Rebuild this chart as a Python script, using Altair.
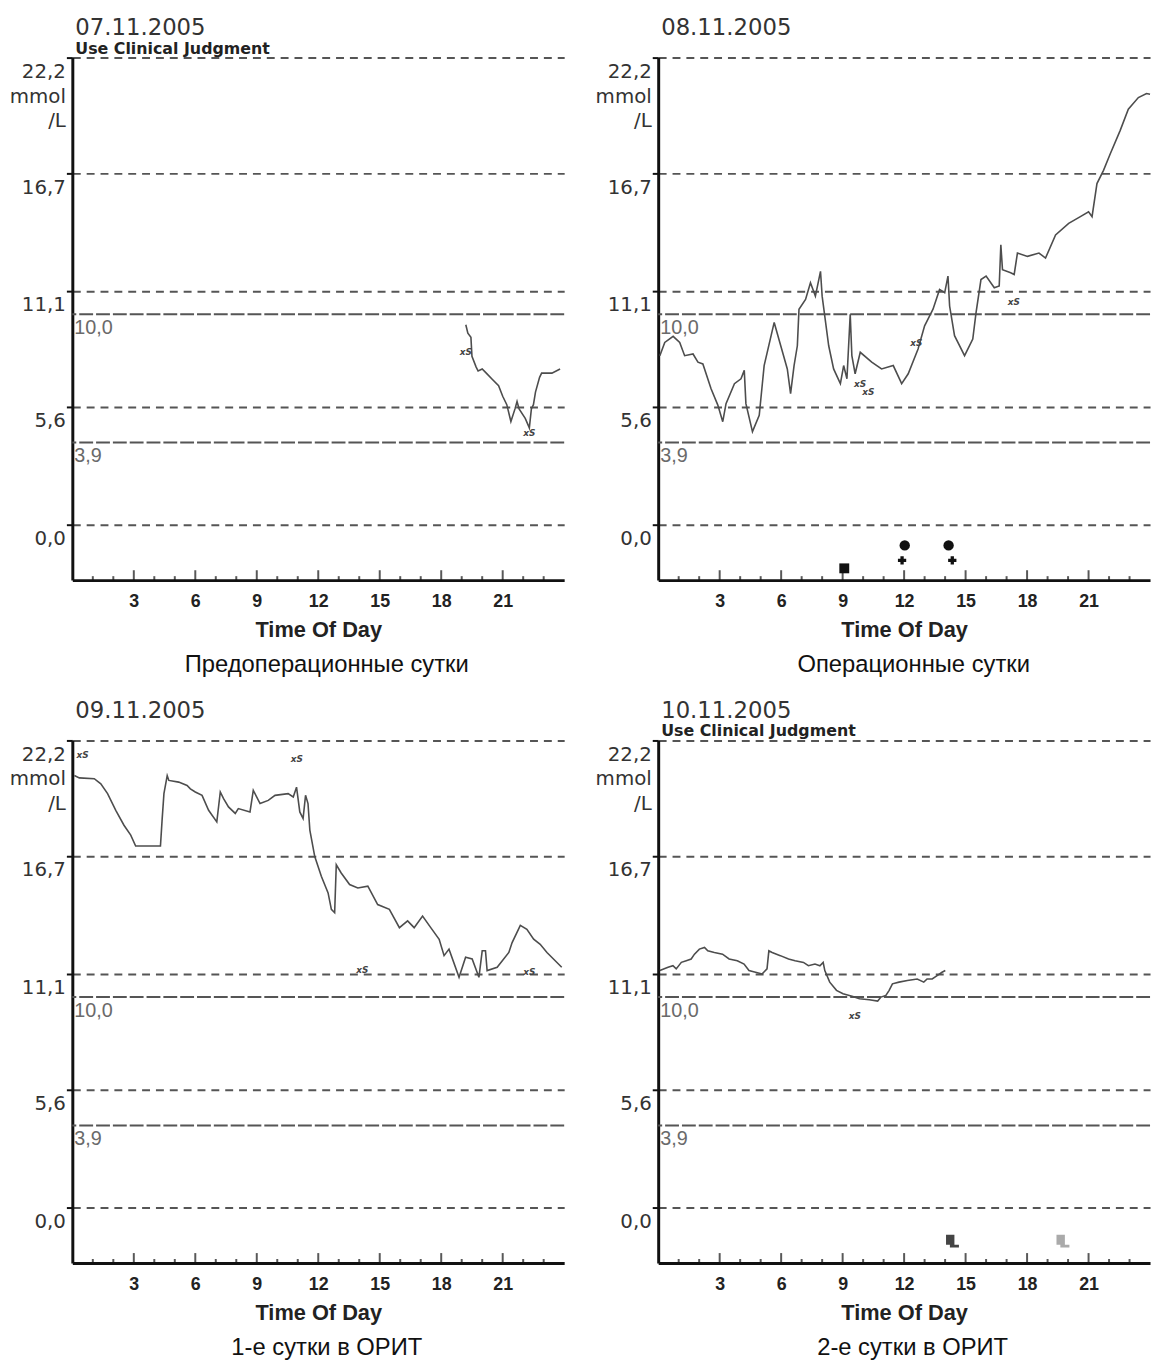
import altair as alt
import pandas as pd

# ---------------- chart constants ----------------
Y_MIN = -2.64
Y_MAX = 22.2
Y_TICKS = [0.0, 5.6, 11.1, 16.7, 22.2]
X_LABEL_HOURS = [3, 6, 9, 12, 15, 18, 21]
MAJOR_TICK_HOURS = [3, 6, 9, 12, 15, 18, 21]
MINOR_TICK_HOURS = [1, 2, 4, 5, 7, 8, 10, 11, 13, 14, 16, 17, 19, 20, 22, 23]
TARGET_LINES = [10.0, 3.9]
TARGET_LABELS = ["10,0", "3,9"]

DATES = ["07.11.2005", "08.11.2005", "09.11.2005", "10.11.2005"]
SUBTITLES = ["Use Clinical Judgment", " ", " ", "Use Clinical Judgment"]
CAPTIONS = ["Предоперационные сутки", "Операционные сутки",
            "1-е сутки в ОРИТ", "2-е сутки в ОРИТ"]

# ---------------- 07.11.2005 ----------------
D1_T = [19.2, 19.3, 19.45, 19.5, 19.7, 19.8, 20.0, 20.2, 20.5, 20.8, 21.0, 21.2,
        21.4, 21.6, 21.7, 21.8, 22.1, 22.3, 22.4, 22.5, 22.6, 22.8, 22.9, 23.4, 23.8]
D1_G = [9.5, 9.1, 8.9, 8.0, 7.5, 7.3, 7.4, 7.2, 6.9, 6.6, 6.1, 5.7,
        4.9, 5.5, 5.85, 5.5, 5.05, 4.6, 5.5, 5.7, 6.3, 7.0, 7.2, 7.2, 7.4]
D1_XS_T = [19.2, 22.3]
D1_XS_G = [8.2, 4.35]

# ---------------- 08.11.2005 ----------------
D2_T = [0.08, 0.32, 0.73, 1.05, 1.29, 1.70, 1.94, 2.18, 2.58, 2.91, 3.15, 3.31,
        3.72, 4.04, 4.2, 4.28, 4.6, 4.93, 5.17, 5.66, 5.98, 6.3, 6.46, 6.63,
        6.79, 6.87, 7.19, 7.43, 7.67, 7.92, 8.0, 8.32, 8.56, 8.89, 9.05, 9.21,
        9.37, 9.45, 9.61, 9.86, 10.42, 10.9, 11.47, 11.88, 12.2, 12.68, 13.0, 13.41,
        13.73, 13.98, 14.14, 14.22, 14.46, 14.95, 15.35, 15.51, 15.75, 16.0, 16.4, 16.64,
        16.72, 16.8, 17.2, 17.37, 17.53, 18.02, 18.58, 18.9, 19.39, 20.03, 20.6, 21.0,
        21.17, 21.41, 21.73, 22.06, 22.54, 22.94, 23.43, 23.83, 24.0]
D2_G = [8.03, 8.66, 8.95, 8.66, 8.03, 8.11, 7.72, 7.64, 6.46, 5.68, 4.89, 5.75,
        6.70, 6.93, 7.33, 5.75, 4.42, 5.2, 7.56, 9.61, 8.5, 7.4, 6.23, 7.56,
        8.5, 10.24, 10.7, 11.5, 10.86, 12.04, 10.86, 8.5, 7.4, 6.7, 7.56, 6.93,
        10.0, 8.03, 7.17, 8.19, 7.72, 7.4, 7.56, 6.7, 7.17, 8.35, 9.45, 10.24,
        11.18, 11.02, 11.81, 10.39, 8.98, 8.03, 8.82, 10.08, 11.65, 11.81, 11.26, 11.34,
        13.3, 12.12, 11.97, 11.89, 12.91, 12.75, 12.91, 12.67, 13.77, 14.32, 14.64, 14.87,
        14.64, 16.21, 16.84, 17.63, 18.73, 19.75, 20.3, 20.49, 20.46]
D2_XS_T = [9.85, 10.25, 12.6, 17.35]
D2_XS_G = [6.7, 6.3, 8.65, 10.6]
D2_SQUARE_T = [9.08]
D2_SQUARE_G = [-2.08]
D2_CIRCLE_T = [12.03, 14.17]
D2_CIRCLE_G = [-0.99, -0.99]
D2_PLUS_T = [11.9, 14.35]
D2_PLUS_G = [-1.7, -1.7]

# ---------------- 09.11.2005 ----------------
D3_T = [0.1, 0.34, 1.07, 1.39, 1.72, 2.12, 2.52, 2.85, 3.09, 4.3, 4.38, 4.47,
        4.63, 4.71, 5.19, 5.6, 5.76, 6.0, 6.33, 6.65, 7.05, 7.22, 7.38, 7.62,
        7.95, 8.1, 8.67, 8.83, 9.16, 9.56, 9.89, 10.53, 10.78, 10.94, 11.1, 11.26,
        11.38, 11.5, 11.59, 11.83, 12.15, 12.48, 12.64, 12.8, 12.88, 13.12, 13.53, 13.93,
        14.42, 14.9, 15.47, 15.96, 16.36, 16.68, 17.09, 17.49, 17.9, 18.14, 18.38, 18.87,
        19.19, 19.51, 19.84, 20.0, 20.16, 20.24, 20.73, 21.3, 21.46, 21.86, 22.18, 22.51,
        22.83, 23.16, 23.88]
D3_G = [20.53, 20.42, 20.38, 20.14, 19.67, 18.88, 18.17, 17.7, 17.18, 17.18, 18.41, 19.67,
        20.53, 20.3, 20.22, 20.06, 19.9, 19.75, 19.59, 18.88, 18.33, 19.75, 19.43, 19.04,
        18.73, 18.96, 18.8, 19.83, 19.2, 19.35, 19.59, 19.67, 19.51, 19.98, 18.8, 18.49,
        19.59, 19.2, 17.94, 16.68, 15.74, 14.95, 14.17, 14.01, 16.29, 15.9, 15.35, 15.19,
        15.27, 14.4, 14.17, 13.3, 13.62, 13.3, 13.85, 13.3, 12.75, 11.97, 12.28, 10.94,
        11.89, 11.81, 10.94, 12.2, 12.2, 11.26, 11.42, 12.12, 12.59, 13.41, 13.22, 12.75,
        12.51, 12.12, 11.42]
D3_XS_T = [0.5, 10.95, 14.15, 22.3]
D3_XS_G = [21.5, 21.3, 11.3, 11.2]

# ---------------- 10.11.2005 ----------------
D4_T = [0.08, 0.48, 0.72, 0.88, 1.13, 1.37, 1.61, 1.77, 2.01, 2.26, 2.42, 2.74,
        3.14, 3.46, 3.86, 4.19, 4.43, 4.75, 5.07, 5.31, 5.4, 5.56, 5.96, 6.36,
        6.68, 7.09, 7.33, 7.65, 7.89, 8.05, 8.13, 8.37, 8.7, 9.02, 9.5, 9.82,
        10.3, 10.71, 10.87, 11.11, 11.27, 11.43, 11.75, 12.16, 12.64, 12.96, 13.12, 13.37,
        13.61, 13.85, 14.01]
D4_G = [11.26, 11.42, 11.49, 11.34, 11.65, 11.73, 11.81, 12.04, 12.28, 12.36, 12.2, 12.12,
        12.04, 11.81, 11.73, 11.57, 11.26, 11.18, 11.1, 11.34, 12.2, 12.12, 11.97, 11.81,
        11.73, 11.65, 11.49, 11.57, 11.49, 11.65, 11.26, 10.71, 10.32, 10.16, 10.03, 9.92,
        9.87, 9.81, 10.0, 10.08, 10.32, 10.63, 10.71, 10.79, 10.86, 10.71, 10.86, 10.86,
        11.02, 11.18, 11.26]
D4_XS_T = [9.6]
D4_XS_G = [9.1]
D4_EVENT_T = [14.36, 19.75]
D4_EVENT_G = [-1.6, -1.6]
D4_EVENT_KIND = ["dark", "light"]

# ---------------- styling ----------------
FONT = "DejaVu Sans"
ARIAL = "Liberation Sans"
INK = "#222222"
LINE = "#4d4d4d"

x_scale = alt.Scale(domain=[0, 24], nice=False, zero=False)
y_scale = alt.Scale(domain=[Y_MIN, Y_MAX], nice=False, zero=False)

y_axis = alt.Axis(
    values=Y_TICKS, title=None, grid=True, gridDash=[8, 6], gridColor="#555555",
    gridWidth=2, domainColor="#111111", domainWidth=3, tickColor="#111111",
    tickWidth=2, tickSize=6, labelFont=FONT, labelFontSize=20, labelColor="#333333",
    labelBaseline="top", labelOffset=4, labelPadding=1, labelLineHeight=25,
    labelOverlap=False,
    labelExpr="datum.value > 22 ? ['22,2', 'mmol', '/L'] : replace(format(datum.value, '.1f'), '.', ',')",
)
x_axis = alt.Axis(
    values=X_LABEL_HOURS, title="Time Of Day", grid=False, ticks=False, tickSize=0,
    domainColor="#111111", domainWidth=3, labelFont=ARIAL, labelFontSize=18,
    labelFontWeight="bold", labelColor=INK, labelPadding=13, labelFlush=False,
    titleFont=ARIAL, titleFontSize=22, titleFontWeight="bold", titleColor=INK,
    titlePadding=9,
)


def xy(axes=False):
    if axes:
        return dict(x=alt.X("t:Q", scale=x_scale, axis=x_axis),
                    y=alt.Y("g:Q", scale=y_scale, axis=y_axis))
    return dict(x=alt.X("t:Q", scale=x_scale),
                y=alt.Y("g:Q", scale=y_scale))


def panel(t, g, xs_t, xs_g, extra, date, subtitle, caption):
    major = alt.Chart(pd.DataFrame({"t": MAJOR_TICK_HOURS,
                                    "g": [Y_MIN] * len(MAJOR_TICK_HOURS)})).mark_tick(
        orient="vertical", size=10, thickness=2, color="#111111", yOffset=-5
    ).encode(**xy(axes=True))
    minor = alt.Chart(pd.DataFrame({"t": MINOR_TICK_HOURS,
                                    "g": [Y_MIN] * len(MINOR_TICK_HOURS)})).mark_tick(
        orient="vertical", size=4, thickness=2, color="#111111", yOffset=-2
    ).encode(**xy())
    targets = pd.DataFrame({"g": TARGET_LINES, "label": TARGET_LABELS,
                            "t": [0] * len(TARGET_LINES)})
    target_rules = alt.Chart(targets).mark_rule(
        strokeDash=[14, 3], strokeWidth=2, color="#555555"
    ).encode(y=alt.Y("g:Q", scale=y_scale))
    target_text = alt.Chart(targets).mark_text(
        align="left", baseline="top", dx=2, dy=4, font=ARIAL, fontSize=20, color="#6a6a6a"
    ).encode(text="label:N", **xy())
    line = alt.Chart(pd.DataFrame({"t": t, "g": g})).mark_line(
        color=LINE, strokeWidth=1.6
    ).encode(**xy())
    xs = alt.Chart(pd.DataFrame({"t": xs_t, "g": xs_g})).mark_text(
        text="xS", font=FONT, fontSize=9, fontWeight="bold", fontStyle="italic",
        color="#444444"
    ).encode(**xy())
    layer = alt.layer(major, minor, target_rules, target_text, line, xs, *extra).properties(
        width=497, height=528,
        title=alt.TitleParams(
            text=date, subtitle=subtitle, anchor="start", frame="group", dx=3,
            font=FONT, fontSize=23, fontWeight="normal", color="#333333",
            subtitleFont=FONT, subtitleFontSize=16, subtitleFontWeight="bold",
            subtitleColor=INK, subtitlePadding=1, offset=0,
        ),
    )
    return alt.vconcat(layer, title=alt.TitleParams(
        text=caption, orient="bottom", anchor="middle", dx=40, font=ARIAL, fontSize=24,
        fontWeight="normal", color="#111111", offset=13,
    ))


ev2 = [
    alt.Chart(pd.DataFrame({"t": D2_SQUARE_T, "g": D2_SQUARE_G})).mark_point(
        shape="square", filled=True, size=100, color="#111111", opacity=1
    ).encode(**xy()),
    alt.Chart(pd.DataFrame({"t": D2_CIRCLE_T, "g": D2_CIRCLE_G})).mark_point(
        shape="circle", filled=True, size=110, color="#111111", opacity=1
    ).encode(**xy()),
    alt.Chart(pd.DataFrame({"t": D2_PLUS_T, "g": D2_PLUS_G})).mark_point(
        shape="cross", filled=True, size=70, color="#111111", opacity=1
    ).encode(**xy()),
]
ev4 = [
    alt.Chart(pd.DataFrame({"t": D4_EVENT_T, "g": D4_EVENT_G, "kind": D4_EVENT_KIND})).mark_point(
        shape="M-1,-1H0.3V0.55H1V1H-0.4V0.55H-1Z", filled=True, size=170, opacity=1
    ).encode(
        color=alt.Color("kind:N", scale=alt.Scale(domain=["dark", "light"],
                                                  range=["#444444", "#aaaaaa"]), legend=None),
        **xy()
    ),
]

p1 = panel(D1_T, D1_G, D1_XS_T, D1_XS_G, [], DATES[0], SUBTITLES[0], CAPTIONS[0])
p2 = panel(D2_T, D2_G, D2_XS_T, D2_XS_G, ev2, DATES[1], SUBTITLES[1], CAPTIONS[1])
p3 = panel(D3_T, D3_G, D3_XS_T, D3_XS_G, [], DATES[2], SUBTITLES[2], CAPTIONS[2])
p4 = panel(D4_T, D4_G, D4_XS_T, D4_XS_G, ev4, DATES[3], SUBTITLES[3], CAPTIONS[3])

chart = alt.vconcat(
    alt.hconcat(p1, p2, spacing=30),
    alt.hconcat(p3, p4, spacing=30),
    spacing=23,
).properties(
    padding={"left": 1, "top": 2, "right": 0, "bottom": 0},
    background="white",
).configure_view(stroke=None)

chart.save("out.html", embed_options={"renderer": "svg", "actions": False})
